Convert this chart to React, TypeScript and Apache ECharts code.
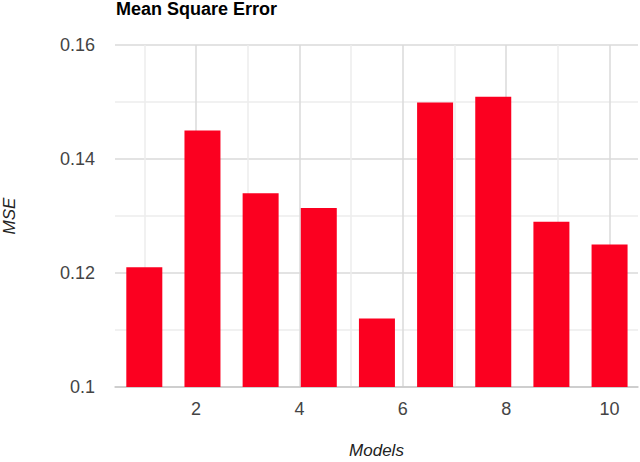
import React, { useEffect, useRef } from "react";
import * as echarts from "echarts";

const modelPositions = [1, 2.125, 3.25, 4.375, 5.5, 6.625, 7.75, 8.875, 10];
const mseValues = [0.121, 0.145, 0.134, 0.1314, 0.112, 0.1499, 0.1509, 0.129, 0.125];
const xTickLabels = [2, 4, 6, 8, 10];
const xGridValues = [1, 2, 3, 4, 5, 6, 7, 8, 9, 10];

const FONT = "'Liberation Sans', Arial, sans-serif";

export default function App() {
  const ref = useRef<HTMLDivElement>(null);
  useEffect(() => {
    if (!ref.current) return;
    const chart = echarts.init(ref.current, undefined, { renderer: "svg" });
    chart.setOption({
      animation: false,
      title: {
        text: "Mean Square Error",
        left: 116,
        top: 0,
        padding: 0,
        textStyle: { fontFamily: FONT, fontSize: 18, fontWeight: "bold", color: "#000" },
      },
      grid: { left: 115, right: 2, top: 45, bottom: 75, outerBoundsMode: "none", containLabel: false },
      xAxis: {
        type: "value",
        min: 0.433,
        max: 10.55,
        name: "Models",
        nameLocation: "middle",
        nameGap: 55,
        nameTextStyle: { fontFamily: FONT, fontSize: 17, fontStyle: "italic", color: "#222" },
        axisLine: { show: true, lineStyle: { color: "#c8c8c8", width: 1.5 } },
        axisTick: { show: false, customValues: xGridValues },
        axisLabel: {
          customValues: xTickLabels,
          fontFamily: FONT,
          fontSize: 18,
          color: "#444",
          margin: 13,
        },
        splitLine: {
          show: true,
          lineStyle: { color: ["#ececec", "#dadada"], width: 1.5 },
        },
      },
      yAxis: {
        type: "value",
        min: 0.1,
        max: 0.16,
        interval: 0.01,
        name: "MSE",
        nameLocation: "middle",
        nameGap: 97,
        nameTextStyle: { fontFamily: FONT, fontSize: 17, fontStyle: "italic", color: "#222" },
        axisLine: { show: false },
        axisTick: { show: false },
        axisLabel: {
          fontFamily: FONT,
          fontSize: 18,
          color: "#444",
          margin: 20,
          formatter: (v: number) => (Math.round(v * 100) % 2 === 0 ? String(Math.round(v * 100) / 100) : ""),
        },
        splitLine: {
          show: true,
          lineStyle: { color: ["#dadada", "#ececec"], width: 1.5 },
        },
      },
      series: [
        {
          type: "bar",
          data: modelPositions.map((x, i) => [x, mseValues[i]]),
          barWidth: 36,
          itemStyle: { color: "#fb0020" },
        },
      ],
    });
    return () => chart.dispose();
  }, []);
  return <div ref={ref} style={{ width: 640, height: 462, position: "absolute", left: 0, top: 0 }} />;
}
